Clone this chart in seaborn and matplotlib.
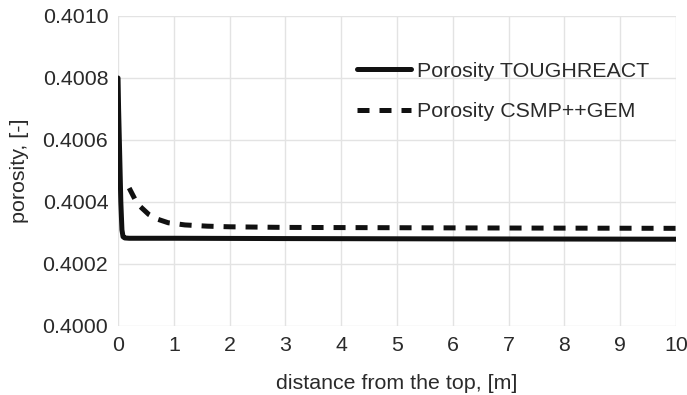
import numpy as np
import pandas as pd
import seaborn as sns
import matplotlib.pyplot as plt

# Porosity profiles along depth
dist_tough = [0.0, 0.01, 0.03, 0.05, 0.07, 0.09, 0.12, 0.2, 1.0, 3.0, 6.0, 10.0]
poro_tough = [0.40080, 0.40070, 0.40055, 0.40040, 0.40031, 0.400288, 0.400284, 0.400283,
              0.400283, 0.400282, 0.400281, 0.400280]

dist_gem = [0.2, 0.3, 0.4, 0.55, 0.7, 0.9, 1.2, 1.6, 2.0, 3.0, 5.0, 7.0, 10.0]
poro_gem = [0.400445, 0.400410, 0.400385, 0.400360, 0.400345, 0.400333, 0.400326,
            0.400322, 0.400320, 0.400318, 0.400317, 0.400316, 0.400315]

x_ticks = list(range(0, 11))
y_ticks = [0.4000, 0.4002, 0.4004, 0.4006, 0.4008, 0.4010]

df = pd.concat([
    pd.DataFrame({"distance": dist_tough, "porosity": poro_tough, "model": "Porosity TOUGHREACT"}),
    pd.DataFrame({"distance": dist_gem, "porosity": poro_gem, "model": "Porosity CSMP++GEM"}),
])

sns.set_theme(style="whitegrid")
plt.rcParams["font.family"] = ["Liberation Sans", "DejaVu Sans"]

FS = 15.4
fig = plt.figure(figsize=(6.87, 3.95), dpi=100)
ax = fig.add_axes([0.1718, 0.1747, 0.8122, 0.7848])

sns.lineplot(data=df, x="distance", y="porosity", hue="model", style="model",
             palette=["#111111", "#111111"],
             dashes={"Porosity TOUGHREACT": "", "Porosity CSMP++GEM": (2.4, 2.0)},
             linewidth=3.6, sort=False, ax=ax, legend=True)

ax.set_xlim(0, 10)
ax.set_ylim(0.4000, 0.4010)
ax.set_xticks(x_ticks)
ax.set_yticks(y_ticks)
ax.set_yticklabels([f"{v:.4f}" for v in y_ticks])
ax.grid(True, color="#e3e3e3", linewidth=1.0)
for s in ax.spines.values():
    s.set_visible(False)
ax.tick_params(axis="both", labelsize=FS, colors="#2a2a2a", length=4, width=1,
               color="#e3e3e3", pad=3)
ax.set_xlabel("distance from the top, [m]", fontsize=FS, color="#2a2a2a", labelpad=14)
ax.set_ylabel("porosity, [-]", fontsize=FS, color="#2a2a2a", labelpad=10)

leg = ax.legend(loc="upper left", bbox_to_anchor=(0.428, 0.852), frameon=False,
                fontsize=FS, handlelength=2.55, handletextpad=0.25, labelspacing=1.0,
                borderpad=0, borderaxespad=0)
for t in leg.get_texts():
    t.set_color("#2a2a2a")
for h in leg.get_lines():
    h.set_linewidth(3.6)

fig.savefig("out.png", dpi=100)
